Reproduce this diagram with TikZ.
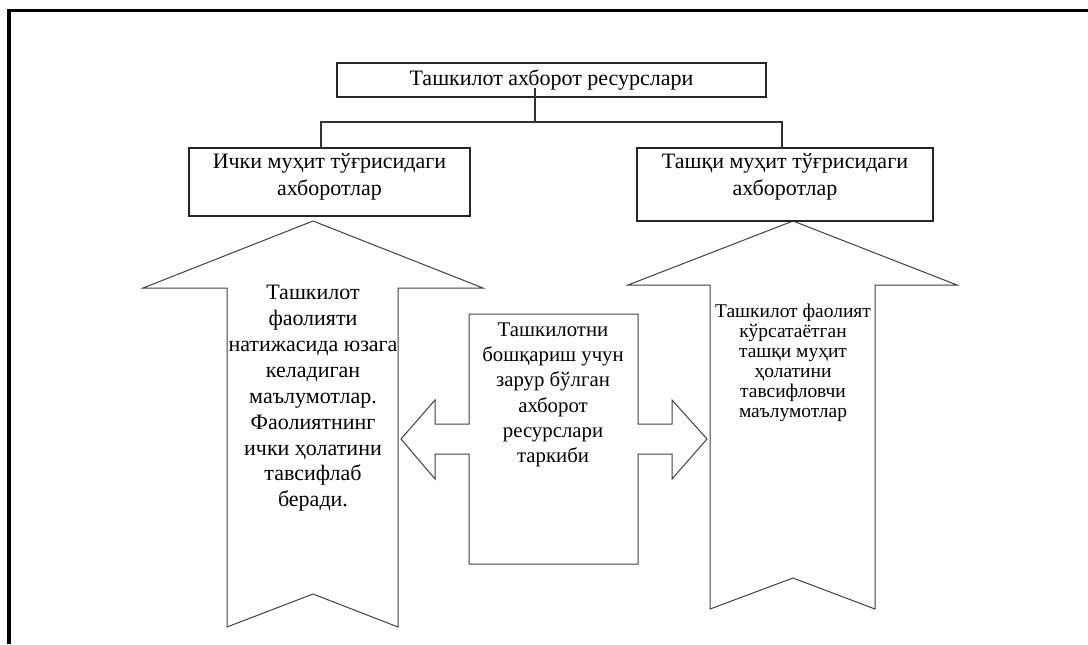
\documentclass[tikz,border=0pt]{standalone}
\usepackage{fontspec}
\setmainfont{Liberation Serif}
\begin{document}
\begin{tikzpicture}[x=0.75pt,y=-0.75pt,
  line/.style={draw=black!80,line width=0.8pt},
  boxnode/.style={draw=black!85,line width=0.8pt,inner sep=0pt,outer sep=0pt,fill=white},
  shapeline/.style={draw=black!75,line width=0.75pt,fill=white,line join=miter},
  txt/.style={align=center,inner sep=0pt,text=black},
  big/.style={font=\fontsize{16.5}{19}\selectfont},
  mid/.style={font=\fontsize{15.6}{19}\selectfont},
  bigb/.style={font=\fontsize{16.5}{20.2}\selectfont},
  bigl/.style={font=\fontsize{16.5}{19.4}\selectfont},
  small/.style={font=\fontsize{14.6}{15}\selectfont}]
\useasboundingbox (0,0) rectangle (1088,644);
% outer frame (left and top)
\draw[line width=2.6pt,line join=miter] (9,644) -- (9,10.5) -- (1088,10.5);

% big up arrows
\draw[shapeline] (313,221) -- (483,288) -- (398,288) -- (398,627) -- (313,594)
  -- (227,627) -- (227,288) -- (143,288) -- cycle;
\draw[shapeline] (793,221) -- (957,285) -- (875,285) -- (875,609) -- (793,578)
  -- (710,609) -- (710,285) -- (628,285) -- cycle;
% middle double arrow
\draw[shapeline] (401,439) -- (435,400) -- (435,424) -- (469,424) -- (469,314)
  -- (638,314) -- (638,424) -- (672,424) -- (672,400) -- (707,439) -- (672,479)
  -- (672,454) -- (638,454) -- (638,564) -- (469,564) -- (469,454) -- (435,454)
  -- (435,479) -- cycle;

% boxes
\node[boxnode,minimum width=321.75pt,minimum height=25.5pt] (top) at (551.5,80) {};
\node[txt,big] (toptxt) at (551.5,80) {Ташкилот ахборот ресурслари};
\node[boxnode,minimum width=210.75pt,minimum height=51pt] (lb) at (329.5,182) {};
\node[txt,bigb] (lbtxt) at (329.5,176.5) {Ички муҳит тўғрисидаги\\ахборотлар};
\node[boxnode,minimum width=222pt,minimum height=54.75pt] (rb) at (785,184.5) {};
\node[txt,bigb] (rbtxt) at (785,176.5) {Ташқи муҳит тўғрисидаги\\ахборотлар};

% connectors
\coordinate (c0) at (535,88);
\coordinate (bl) at (321,148);
\coordinate (br) at (782,148);
\draw[line] (c0) -- (535,122);
\draw[line] (bl) -- (321,122) -- (782,122) -- (br);

% texts in arrows
\node[txt,bigl] (lat) at (313,398.5) {Ташкилот\\фаолияти\\натижасида юзага\\келадиган\\маълумотлар.\\Фаолиятнинг\\ички ҳолатини\\тавсифлаб\\беради.};
\node[txt,mid] (mt) at (553,395) {Ташкилотни\\бошқариш учун\\зарур бўлган\\ахборот\\ресурслари\\таркиби};
\node[txt,small] (rat) at (793,363) {Ташкилот фаолият\\кўрсатаётган\\ташқи муҳит\\ҳолатини\\тавсифловчи\\маълумотлар};
\end{tikzpicture}
\end{document}
